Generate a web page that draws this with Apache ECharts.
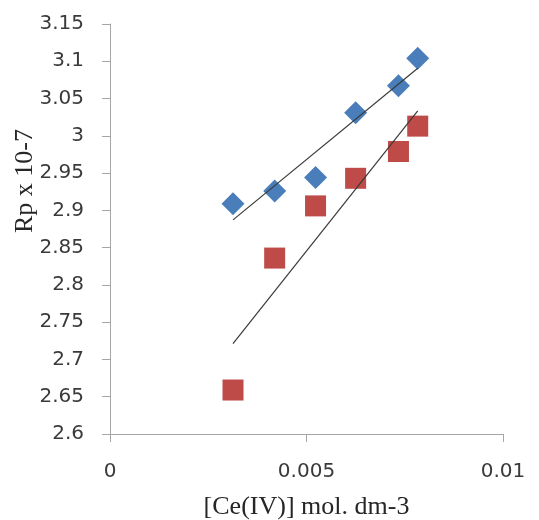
<!DOCTYPE html>
<html>
<head>
<meta charset="utf-8">
<script src="https://cdn.jsdelivr.net/npm/echarts@6/dist/echarts.min.js"></script>
<style>
  html, body { margin: 0; padding: 0; background: #fff; }
  #chart { width: 539px; height: 520px; }
</style>
</head>
<body>
<div id="chart"></div>
<script>
// Ce(IV) concentration (mol dm-3)
const ceConc = [0.00313, 0.00419, 0.00523, 0.00625, 0.00734, 0.00783];
// Rp x 10^-7 for the two series
const rpBlue = [2.909, 2.926, 2.944, 3.031, 3.067, 3.104];
const rpRed = [2.659, 2.836, 2.906, 2.943, 2.979, 3.013];

const xTicks = [0, 0.005, 0.01];
const yTicks = [2.6, 2.65, 2.7, 2.75, 2.8, 2.85, 2.9, 2.95, 3, 3.05, 3.1, 3.15];

// Least-squares line across the range of x values
function linearFit(xs, ys) {
  const n = xs.length;
  const mx = xs.reduce((a, b) => a + b, 0) / n;
  const my = ys.reduce((a, b) => a + b, 0) / n;
  let sxy = 0, sxx = 0;
  for (let i = 0; i < n; i++) {
    sxy += (xs[i] - mx) * (ys[i] - my);
    sxx += (xs[i] - mx) * (xs[i] - mx);
  }
  const slope = sxy / sxx;
  const icpt = my - slope * mx;
  const x0 = Math.min(...xs), x1 = Math.max(...xs);
  return [[x0, icpt + slope * x0], [x1, icpt + slope * x1]];
}

const pairs = (xs, ys) => xs.map((x, i) => [x, ys[i]]);

const chart = echarts.init(document.getElementById('chart'), null, { renderer: 'canvas' });

const axisColor = '#a6a6a6';
const labelFont = { fontFamily: 'DejaVu Sans', fontSize: 20, color: '#3a3a3a' };
const titleFont = { fontFamily: 'Liberation Serif', fontSize: 26, color: '#262626' };

chart.setOption({
  animation: false,
  backgroundColor: '#ffffff',
  grid: { left: 110, right: 36, top: 24, bottom: 86, containLabel: false, outerBoundsMode: 'none' },
  xAxis: {
    type: 'value',
    min: xTicks[0],
    max: xTicks[xTicks.length - 1],
    interval: 0.005,
    splitLine: { show: false },
    axisLine: { lineStyle: { color: axisColor, width: 1 } },
    axisTick: { show: true, length: 8, lineStyle: { color: axisColor } },
    axisLabel: Object.assign({ margin: 28, formatter: v => String(v) }, labelFont),
    name: '[Ce(IV)] mol. dm-3',
    nameLocation: 'middle',
    nameGap: 60,
    nameMoveOverlap: false,
    nameTextStyle: titleFont
  },
  yAxis: {
    type: 'value',
    min: yTicks[0],
    max: yTicks[yTicks.length - 1],
    interval: 0.05,
    splitLine: { show: false },
    axisLine: { show: true, lineStyle: { color: axisColor, width: 1 } },
    axisTick: { show: true, length: 8, lineStyle: { color: axisColor } },
    axisLabel: Object.assign({ margin: 26, formatter: v => String(+v.toFixed(2)) }, labelFont),
    name: 'Rp x 10-7',
    nameLocation: 'middle',
    nameGap: 72,
    nameRotate: 90,
    nameMoveOverlap: false,
    nameTextStyle: Object.assign({ padding: [0, 0, 0, 96] }, titleFont)
  },
  series: [
    {
      type: 'scatter',
      data: pairs(ceConc, rpBlue),
      symbol: 'diamond',
      symbolSize: [23, 23],
      itemStyle: { color: '#4a7ebb', opacity: 1 },
      z: 2
    },
    {
      type: 'scatter',
      data: pairs(ceConc, rpRed),
      symbol: 'rect',
      symbolSize: 21,
      itemStyle: { color: '#be4b48', opacity: 1 },
      z: 2
    },
    {
      type: 'line',
      data: linearFit(ceConc, rpBlue),
      showSymbol: false,
      symbol: 'none',
      lineStyle: { color: '#3a3a3a', width: 1.2 },
      z: 3
    },
    {
      type: 'line',
      data: linearFit(ceConc, rpRed),
      showSymbol: false,
      symbol: 'none',
      lineStyle: { color: '#3a3a3a', width: 1.2 },
      z: 3
    }
  ]
});
</script>
</body>
</html>
